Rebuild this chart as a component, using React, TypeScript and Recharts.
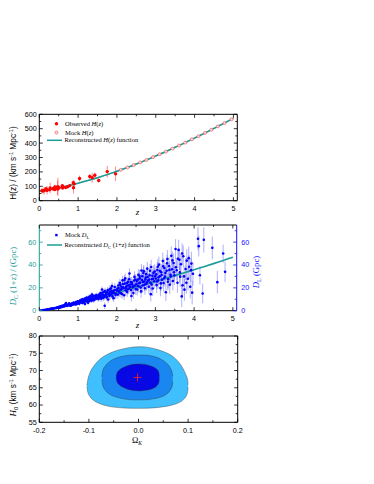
import React from 'react';
import { ComposedChart, Scatter, Line, Area, XAxis, YAxis, ErrorBar, Legend } from 'recharts';

// ---------- Panel 1: H(z) ----------
const obsZ = [0.07, 0.09, 0.12, 0.17, 0.179, 0.199, 0.2, 0.27, 0.28, 0.352, 0.38, 0.4, 0.4004, 0.425, 0.445, 0.47, 0.4783, 0.48, 0.51, 0.593, 0.6, 0.61, 0.68, 0.73, 0.781, 0.875, 0.88, 0.9, 1.037, 1.3, 1.363, 1.43, 1.53, 1.75, 1.965];
const obsH = [69, 69, 68.6, 83, 75, 75, 72.9, 77, 88.8, 83, 81.5, 95, 77, 87.1, 92.8, 89, 80.9, 97, 90.4, 104, 87.9, 97.3, 92, 97.3, 105, 125, 90, 117, 154, 168, 160, 177, 140, 202, 186.5];
const obsErr = [19.6, 12, 26.2, 8, 4, 5, 29.6, 14, 36.6, 14, 1.9, 17, 10.2, 11.2, 12.9, 50, 9, 62, 1.9, 13, 6.1, 2.1, 8, 7, 12, 17, 40, 23, 20, 17, 33.6, 18, 14, 40, 50.4];

const mockHZ = [2.1, 2.27, 2.43, 2.6, 2.76, 2.93, 3.1, 3.26, 3.43, 3.6, 3.76, 3.93, 4.1, 4.27, 4.43, 4.6, 4.77, 4.95];
const mockHVal = [214, 231, 248, 266, 283, 303, 323, 341, 362, 383, 403, 426, 448, 471, 493, 516, 539, 565];

const recHZ = [0, 0.25, 0.5, 0.75, 1, 1.25, 1.5, 1.75, 2, 2.25, 2.5, 2.75, 3, 3.25, 3.5, 3.75, 4, 4.25, 4.5, 4.75, 5];
const recHVal = [67, 76, 89, 104, 121, 140, 160, 181, 205, 229, 255, 282, 311, 340, 371, 402, 435, 468, 502, 537, 572];
const recHBand = [5, 4, 4, 4, 4, 4, 5, 5, 5, 5, 5, 5, 5, 5, 5, 5, 5, 5, 5, 5, 5];

const zTicks = [0, 0.5, 1, 1.5, 2, 2.5, 3, 3.5, 4, 4.5, 5];
const hTicks = [0, 50, 100, 150, 200, 250, 300, 350, 400, 450, 500, 550, 600];

// ---------- Panel 2: D_L (mock catalogue, read by eye) ----------
const dlZ = [
  0.04, 0.07, 0.1, 0.13, 0.16, 0.19, 0.22, 0.25, 0.28, 0.31, 0.34, 0.37, 0.4, 0.43, 0.46, 0.49,
  0.51, 0.53, 0.55, 0.57, 0.59, 0.61, 0.63, 0.65, 0.67, 0.69, 0.71, 0.73, 0.75, 0.77, 0.79, 0.81, 0.83, 0.85, 0.87, 0.89, 0.91, 0.93, 0.95, 0.97, 0.99,
  1.01, 1.03, 1.05, 1.07, 1.09, 1.11, 1.13, 1.15, 1.17, 1.18, 1.19, 1.21, 1.23, 1.25, 1.26, 1.27, 1.29, 1.31, 1.33, 1.35, 1.36, 1.37, 1.39, 1.41, 1.43, 1.45, 1.47, 1.49,
  1.51, 1.53, 1.55, 1.57, 1.59, 1.61, 1.62, 1.63, 1.65, 1.67, 1.69, 1.71, 1.73, 1.75, 1.77, 1.78, 1.79, 1.81, 1.83, 1.85, 1.87, 1.89, 1.91, 1.92, 1.93, 1.95, 1.97, 1.99,
  2.01, 2.03, 2.05, 2.07, 2.09, 2.11, 2.13, 2.15, 2.17, 2.19, 2.21, 2.22, 2.23, 2.25, 2.27, 2.29, 2.31, 2.33, 2.35, 2.37, 2.38, 2.39, 2.41, 2.43, 2.45, 2.46, 2.47, 2.49,
  2.51, 2.53, 2.55, 2.57, 2.59, 2.61, 2.63, 2.64, 2.65, 2.67, 2.69, 2.71, 2.73, 2.75, 2.77, 2.79, 2.81, 2.83, 2.85, 2.87, 2.88, 2.89, 2.91, 2.93, 2.95, 2.97, 2.99,
  3.01, 3.03, 3.05, 3.07, 3.09, 3.11, 3.13, 3.15, 3.17, 3.19, 3.21, 3.23, 3.25, 3.27, 3.29, 3.31, 3.33, 3.35, 3.37, 3.39, 3.41, 3.43, 3.45, 3.47, 3.49,
  3.52, 3.55, 3.57, 3.6, 3.62, 3.64, 3.66, 3.68, 3.7, 3.72, 3.75, 3.78, 3.81, 3.84, 3.87, 3.9, 3.93, 3.95, 3.97,
  4.1, 4.12, 4.15, 4.22, 4.25, 4.47, 4.6, 4.75, 4.8,
];
const dlVal = [
  0.2, 0.35, 0.5, 0.6, 0.8, 0.95, 1.2, 1.1, 1.6, 1.5, 2.0, 1.7, 2.4, 2.2, 2.9, 2.5,
  3.4, 2.6, 3.9, 3.0, 4.3, 3.4, 4.7, 3.8, 5.5, 6.6, 4.2, 5.1, 4.5, 6.4, 5.0, 5.8, 4.7, 6.5, 5.3, 7.2, 6.1, 5.5, 7.6, 6.4, 8.3,
  7.1, 6.0, 8.4, 7.5, 9.6, 6.8, 8.9, 7.8, 10.4, 5.9, 8.5, 9.2, 11.5, 8.1, 6.9, 10.0, 12.2, 9.4, 10.7, 8.7, 14.1, 11.9, 10.2, 13.0, 9.7, 11.3, 13.6, 10.5,
  12.4, 10.2, 13.8, 11.5, 15.4, 12.3, 18.6, 14.2, 11.1, 16.5, 4.3, 13.4, 15.7, 12.1, 18.0, 9.8, 14.4, 13.0, 16.6, 19.5, 14.9, 12.5, 17.3, 11.0, 15.4, 20.8, 13.8, 18.3,
  17.4, 14.1, 19.8, 16.0, 22.6, 15.2, 18.9, 26.5, 20.4, 13.5, 23.7, 28.4, 17.8, 21.3, 16.3, 25.4, 19.2, 32.5, 22.9, 18.1, 12.8, 24.8, 20.6, 15.4, 26.4, 29.6, 22.0, 18.9,
  23.5, 18.6, 27.3, 21.2, 30.4, 24.6, 16.9, 35.2, 26.9, 22.0, 33.0, 25.5, 19.7, 29.0, 23.5, 36.8, 26.3, 20.9, 31.0, 24.7, 14.5, 38.2, 27.6, 19.4, 33.1, 25.8, 30.2,
  28.1, 22.4, 35.6, 26.5, 40.3, 30.2, 19.8, 33.7, 27.1, 43.5, 24.3, 37.4, 29.8, 16.2, 34.9, 45.2, 27.6, 39.1, 22.7, 31.5, 48.0, 36.2, 26.0, 41.7, 30.9,
  54.0, 35.4, 24.5, 53.2, 44.6, 29.8, 40.7, 12.5, 22.3, 47.6, 18.4, 36.5, 43.8, 27.9, 38.4, 21.0, 41.2, 15.8, 32.3,
  63.0, 56.5, 31.0, 15.0, 62.0, 55.0, 25.0, 50.0, 34.0,
];
const dlErr = [
  0.05, 0.08, 0.1, 0.12, 0.15, 0.18, 0.2, 0.22, 0.25, 0.28, 0.3, 0.32, 0.35, 0.38, 0.4, 0.42,
  0.5, 0.5, 0.55, 0.55, 0.6, 0.6, 0.65, 0.65, 0.7, 0.75, 0.75, 0.8, 0.85, 0.85, 0.9, 0.9, 0.95, 1.0, 1.0, 1.05, 1.1, 1.1, 1.15, 1.2, 1.2,
  1.4, 1.4, 1.45, 1.5, 1.5, 1.55, 1.6, 1.6, 1.65, 1.65, 1.7, 1.75, 1.8, 1.8, 1.85, 1.85, 1.9, 1.95, 2.0, 2.0, 2.05, 2.1, 2.1, 2.15, 2.2, 2.2, 2.25, 2.3,
  2.4, 2.45, 2.5, 2.55, 2.6, 2.65, 2.65, 2.7, 2.75, 2.8, 2.8, 2.85, 2.9, 2.95, 3.0, 3.0, 3.05, 3.1, 3.15, 3.2, 3.25, 3.3, 3.35, 3.35, 3.4, 3.45, 3.5, 3.55,
  3.6, 3.65, 3.7, 3.75, 3.8, 3.9, 3.95, 4.0, 4.05, 4.1, 4.15, 4.2, 4.25, 4.3, 4.35, 4.4, 4.5, 4.55, 4.6, 4.65, 4.7, 4.7, 4.8, 4.85, 4.9, 4.95, 5.0, 5.1,
  5.1, 5.2, 5.25, 5.3, 5.4, 5.45, 5.5, 5.6, 5.6, 5.65, 5.7, 5.8, 5.85, 5.9, 6.0, 6.05, 6.1, 6.2, 6.25, 6.3, 6.35, 6.4, 6.45, 6.5, 6.6, 6.65, 6.7,
  6.8, 6.9, 7.0, 7.05, 7.1, 7.2, 7.25, 7.3, 7.4, 7.45, 7.5, 7.6, 7.65, 7.7, 7.8, 7.85, 7.9, 8.0, 8.05, 8.1, 8.2, 8.25, 8.3, 8.4, 8.45,
  8.6, 8.7, 8.8, 8.9, 9.0, 9.1, 9.2, 9.3, 9.4, 9.5, 9.6, 9.7, 9.9, 10.0, 10.1, 10.2, 10.3, 10.4, 10.5,
  10, 9, 8, 8.5, 11, 10, 10, 8, 9,
];

const dl2Z = [
  0.32, 0.38, 0.44, 0.52, 0.56, 0.62, 0.66, 0.72, 0.76, 0.8, 0.84, 0.88, 0.92, 0.96, 0.98,
  1.02, 1.04, 1.06, 1.08, 1.12, 1.14, 1.16, 1.2, 1.22, 1.24, 1.28, 1.3, 1.32, 1.34, 1.38, 1.4, 1.44, 1.48,
  1.52, 1.54, 1.56, 1.58, 1.6, 1.64, 1.66, 1.68, 1.7, 1.72, 1.74, 1.76, 1.8, 1.82, 1.84, 1.86, 1.88, 1.9, 1.94, 1.98,
  2.02, 2.04, 2.06, 2.08, 2.1, 2.12, 2.14, 2.16, 2.18, 2.2, 2.24, 2.26, 2.28, 2.3, 2.32, 2.34, 2.36, 2.4, 2.44, 2.48,
  2.52, 2.54, 2.56, 2.58, 2.6, 2.62, 2.66, 2.68, 2.7, 2.72, 2.74, 2.76, 2.78, 2.8, 2.84, 2.86, 2.9, 2.92, 2.94, 2.98,
  3.02, 3.04, 3.06, 3.08, 3.12, 3.14, 3.16, 3.2, 3.22, 3.26, 3.3, 3.32, 3.36, 3.4, 3.44, 3.48,
  3.53, 3.58, 3.63, 3.69, 3.74, 3.8, 3.86, 3.92,
];
const dl2Val = [
  1.8, 2.1, 2.6, 3.1, 3.5, 4.0, 4.4, 4.8, 5.4, 4.4, 5.9, 6.2, 6.8, 5.6, 7.0,
  8.0, 7.0, 9.1, 8.2, 10.0, 7.3, 9.4, 10.8, 8.0, 9.8, 11.0, 8.6, 12.6, 9.9, 12.4, 9.1, 12.1, 11.8,
  13.2, 11.4, 14.6, 12.8, 10.4, 15.9, 13.5, 12.0, 17.2, 14.3, 11.6, 16.2, 15.1, 18.8, 13.7, 16.9, 21.5, 15.8, 17.9, 14.9,
  19.2, 22.1, 17.2, 24.3, 18.4, 21.0, 14.6, 23.4, 19.7, 26.8, 20.1, 24.0, 18.5, 22.2, 27.5, 20.8, 25.1, 23.0, 21.4, 27.2,
  26.0, 21.8, 31.5, 24.1, 28.3, 20.3, 30.1, 25.2, 34.6, 22.8, 27.4, 32.0, 24.9, 29.5, 27.2, 35.0, 23.0, 30.6, 28.0, 34.3,
  31.8, 25.6, 38.4, 29.0, 34.8, 23.9, 31.2, 38.9, 28.4, 33.0, 41.5, 25.3, 35.7, 30.0, 44.0, 33.6,
  38.0, 45.5, 33.5, 50.0, 30.0, 24.5, 46.0, 35.5,
];
const dl2Err = [
  0.35, 0.4, 0.45, 0.55, 0.6, 0.65, 0.7, 0.8, 0.85, 0.9, 0.95, 1.0, 1.05, 1.1, 1.15,
  1.4, 1.45, 1.5, 1.5, 1.55, 1.6, 1.65, 1.7, 1.75, 1.8, 1.85, 1.9, 1.95, 2.0, 2.05, 2.1, 2.15, 2.25,
  2.4, 2.45, 2.5, 2.55, 2.6, 2.7, 2.75, 2.8, 2.85, 2.9, 2.95, 3.0, 3.1, 3.15, 3.2, 3.25, 3.3, 3.35, 3.45, 3.55,
  3.6, 3.65, 3.7, 3.75, 3.8, 3.85, 3.9, 3.95, 4.0, 4.1, 4.2, 4.25, 4.3, 4.35, 4.4, 4.45, 4.5, 4.6, 4.7, 4.8,
  4.9, 5.0, 5.05, 5.1, 5.2, 5.25, 5.35, 5.4, 5.45, 5.5, 5.6, 5.65, 5.7, 5.8, 5.9, 5.95, 6.05, 6.1, 6.2, 6.3,
  6.4, 6.5, 6.6, 6.7, 6.8, 6.9, 7.0, 7.1, 7.2, 7.3, 7.4, 7.5, 7.6, 7.7, 7.8, 8.0,
  8.2, 8.5, 8.8, 9.1, 9.4, 9.7, 10.0, 10.3,
];

const recDZ = [0, 0.25, 0.5, 0.75, 1, 1.25, 1.5, 1.75, 2, 2.25, 2.5, 2.75, 3, 3.25, 3.5, 3.75, 4, 4.25, 4.5, 4.75, 5];
const recDL = [0, 1.3, 2.95, 4.75, 6.7, 8.8, 11.0, 13.3, 15.7, 18.1, 20.6, 23.1, 25.6, 28.1, 30.7, 33.3, 35.9, 38.5, 41.2, 44.0, 46.8];

const dTicks = [0, 10, 20, 30, 40, 50, 60, 70];

// ---------- Panel 3: H0 - Omega_K contours ----------
const outerX = [-0.104, -0.102, -0.098, -0.09, -0.08, -0.065, -0.05, -0.03, -0.01, 0.005, 0.02, 0.04, 0.055, 0.07, 0.08, 0.09, 0.096, 0.099, 0.1];
const outerLo = [65.3, 63.6, 62.5, 61.3, 60.5, 59.8, 59.4, 59.15, 59.05, 59.05, 59.1, 59.3, 59.6, 60.1, 60.6, 61.5, 62.6, 63.8, 65.2];
const outerHi = [65.7, 67.5, 69.3, 71.3, 73.0, 74.5, 75.5, 76.3, 76.8, 76.9, 76.7, 76.0, 75.2, 74.0, 72.6, 70.5, 68.6, 67.3, 65.9];

const midX = [-0.074, -0.072, -0.067, -0.058, -0.045, -0.03, -0.01, 0.01, 0.03, 0.045, 0.056, 0.064, 0.068, 0.069];
const midLo = [67.4, 65.6, 64.3, 63.1, 62.3, 61.8, 61.5, 61.5, 61.8, 62.3, 63.1, 64.3, 65.6, 66.8];
const midHi = [68.2, 70.0, 71.3, 72.6, 73.6, 74.2, 74.5, 74.5, 74.1, 73.3, 72.2, 70.8, 69.3, 68.3];

const innerX = [-0.045, -0.043, -0.039, -0.032, -0.022, -0.01, 0.002, 0.014, 0.025, 0.033, 0.038, 0.041, 0.042];
const innerLo = [67.6, 66.6, 65.9, 65.2, 64.6, 64.2, 64.1, 64.25, 64.6, 65.1, 65.7, 66.5, 67.6];
const innerHi = [68.4, 69.4, 70.1, 70.8, 71.4, 71.8, 71.9, 71.75, 71.3, 70.8, 70.2, 69.4, 68.4];

const bestOK = [-0.002];
const bestH0 = [68];

const okTicks = [-0.2, -0.15, -0.1, -0.05, 0, 0.05, 0.1, 0.15, 0.2];
const h0Ticks = [55, 57.5, 60, 62.5, 65, 67.5, 70, 72.5, 75, 77.5, 80];

// ---------- derived tables ----------
const obsData = obsZ.map((x, i) => ({ x, y: obsH[i], e: obsErr[i] }));
const mockHData = mockHZ.map((x, i) => ({ x, y: mockHVal[i] }));
const recHData = recHZ.map((x, i) => ({ x, y: recHVal[i], band: [recHVal[i] - recHBand[i], recHVal[i] + recHBand[i]] }));
const dlData = [
  ...dlZ.map((x, i) => ({ x, y: dlVal[i], e: dlErr[i] })),
  ...dl2Z.map((x, i) => ({ x, y: dl2Val[i], e: dl2Err[i] })),
];
const recDData = recDZ.map((x, i) => ({ x, y: recDL[i] }));
const outerData = outerX.map((x, i) => ({ x, r: [outerLo[i], outerHi[i]] }));
const midData = midX.map((x, i) => ({ x, r: [midLo[i], midHi[i]] }));
const innerData = innerX.map((x, i) => ({ x, r: [innerLo[i], innerHi[i]] }));
const bestData = bestOK.map((x, i) => ({ x, y: bestH0[i] }));

// ---------- styling ----------
const SANS = 'Liberation Sans, Arial, sans-serif';
const SERIF = 'Liberation Serif, Times New Roman, serif';
const TEAL = '#1c9c98';
const BLUE = '#1010ff';
const M = 5;
const TICK_FS = 7.2;

type Side = 'bottom' | 'top' | 'left' | 'right';

function makeTick(side: Side, major: number, color: string, label: boolean, fmt: (v: number) => string, gap = 2.5) {
  return (props: any) => {
    const { x, y, payload } = props;
    const v = payload.value;
    const isMajor = Math.abs(v / major - Math.round(v / major)) < 1e-6;
    const len = isMajor ? 3.5 : 2;
    let line;
    let text = null;
    if (side === 'bottom') {
      const ay = y - M;
      line = <line x1={x} x2={x} y1={ay} y2={ay - len} stroke={color} strokeWidth={0.8} />;
      if (label && isMajor)
        text = <text x={x} y={ay + 10.6} textAnchor="middle" fontFamily={SANS} fontSize={TICK_FS} fill={color}>{fmt(v)}</text>;
    } else if (side === 'top') {
      const ay = y + M;
      line = <line x1={x} x2={x} y1={ay} y2={ay + len} stroke={color} strokeWidth={0.8} />;
    } else if (side === 'left') {
      const ax = x + M;
      line = <line x1={ax} x2={ax + len} y1={y} y2={y} stroke={color} strokeWidth={0.8} />;
      if (label && isMajor)
        text = <text x={ax - gap} y={y + 2.4} textAnchor="end" fontFamily={SANS} fontSize={TICK_FS} fill={color}>{fmt(v)}</text>;
    } else {
      const ax = x - M;
      line = <line x1={ax} x2={ax - len} y1={y} y2={y} stroke={color} strokeWidth={0.8} />;
      if (label && isMajor)
        text = <text x={ax + gap} y={y + 2.4} textAnchor="start" fontFamily={SANS} fontSize={TICK_FS} fill={color}>{fmt(v)}</text>;
    }
    return <g>{line}{text}</g>;
  };
}

const intFmt = (v: number) => String(Math.round(v));
const oneFmt = (v: number) => v.toFixed(1);

function axes(opts: {
  xDomain: [number, number]; xTicks: number[]; xMajor: number; xFmt: (v: number) => string;
  yDomain: [number, number]; yTicks: number[]; yMajor: number; yFmt: (v: number) => string;
  leftColor: string; rightColor: string; rightLabels: boolean; leftGap?: number;
}) {
  const common = { tickSize: 0, tickMargin: M, interval: 0 as const, allowDataOverflow: true, type: 'number' as const };
  return [
    <XAxis key="xb" xAxisId="b" dataKey="x" orientation="bottom" domain={opts.xDomain} ticks={opts.xTicks} height={1}
      axisLine={{ stroke: '#000', strokeWidth: 1 }} tick={makeTick('bottom', opts.xMajor, '#000', true, opts.xFmt)} {...common} />,
    <XAxis key="xt" xAxisId="t" dataKey="x" orientation="top" domain={opts.xDomain} ticks={opts.xTicks} height={1}
      axisLine={{ stroke: '#000', strokeWidth: 1 }} tick={makeTick('top', opts.xMajor, '#000', false, opts.xFmt)} {...common} />,
    <YAxis key="yl" yAxisId="l" dataKey="y" orientation="left" domain={opts.yDomain} ticks={opts.yTicks} width={1}
      axisLine={{ stroke: opts.leftColor, strokeWidth: 1 }} tick={makeTick('left', opts.yMajor, opts.leftColor, true, opts.yFmt, opts.leftGap ?? 2.5)} {...common} />,
    <YAxis key="yr" yAxisId="r" dataKey="y" orientation="right" domain={opts.yDomain} ticks={opts.yTicks} width={1}
      axisLine={{ stroke: opts.rightColor, strokeWidth: 1 }} tick={makeTick('right', opts.yMajor, opts.rightColor, opts.rightLabels, opts.yFmt, 4.5)} {...common} />,
  ];
}

const redDot = (p: any) => <circle cx={p.cx} cy={p.cy} r={1.7} fill="#ff0000" />;
const pinkCircle = (p: any) => <circle cx={p.cx} cy={p.cy} r={1.5} fill="#ffd8d8" stroke="#f06060" strokeWidth={0.7} />;
const blueDot = (p: any) => <circle cx={p.cx} cy={p.cy} r={1.3} fill="#0000ff" />;
const redCross = (p: any) => (
  <g stroke="#ff2020" strokeWidth={0.8}>
    <line x1={p.cx - 4} x2={p.cx + 4} y1={p.cy} y2={p.cy} />
    <line x1={p.cx} x2={p.cx} y1={p.cy - 4} y2={p.cy + 4} />
  </g>
);

const legendStyle = { left: 0, top: 0, width: 374, height: 120 };

const LegendH = () => (
  <svg width={374} height={120} style={{ display: 'block' }}>
    <g fontFamily={SERIF} fontSize={6.5} fill="#000">
      <circle cx={56.5} cy={23.7} r={1.7} fill="#ff0000" />
      <text x={65} y={25.8}>Observed <tspan fontStyle="italic">H</tspan>(<tspan fontStyle="italic">z</tspan>)</text>
      <circle cx={56.5} cy={32.5} r={1.5} fill="#ffd8d8" stroke="#f06060" strokeWidth={0.7} />
      <text x={65} y={34.6}>Mock <tspan fontStyle="italic">H</tspan>(<tspan fontStyle="italic">z</tspan>)</text>
      <line x1={47} x2={62} y1={40.3} y2={40.3} stroke={TEAL} strokeWidth={1.5} />
      <text x={64.5} y={42.4}>Reconstructed <tspan fontStyle="italic">H</tspan>(<tspan fontStyle="italic">z</tspan>) function</text>
    </g>
  </svg>
);

const LegendD = () => (
  <svg width={374} height={120} style={{ display: 'block' }}>
    <g fontFamily={SERIF} fontSize={6.5} fill="#000">
      <rect x={55.2} y={13.9} width={2.4} height={2.4} fill="#0000ff" />
      <text x={65} y={17.2}>Mock <tspan fontStyle="italic">D</tspan><tspan fontSize={4.5} dy={1.5}>L</tspan></text>
      <line x1={47} x2={62} y1={25} y2={25} stroke={TEAL} strokeWidth={1.5} />
      <text x={64.5} y={27.2}>Reconstructed <tspan fontStyle="italic">D</tspan><tspan fontSize={4.5} dy={1.5}>C</tspan><tspan dy={-1.5}> (1+</tspan><tspan fontStyle="italic">z</tspan>) function</text>
    </g>
  </svg>
);

export default function App() {
  return (
    <div style={{ position: 'absolute', left: 0, top: 0, width: 374, height: 484, background: '#fff' }}>
      {/* Panel 1 */}
      <div style={{ position: 'absolute', left: 0, top: 100 }}>
        <ComposedChart width={374} height={120} margin={{ top: 13.3, right: 135.7, bottom: 18.3, left: 38.3 }}>
          {axes({ xDomain: [0, 5.1], xTicks: zTicks, xMajor: 1, xFmt: intFmt, yDomain: [0, 600], yTicks: hTicks, yMajor: 100, yFmt: intFmt, leftColor: '#000', rightColor: '#000', rightLabels: false })}
          <Area xAxisId="b" yAxisId="l" data={recHData} dataKey="band" type="monotone" stroke="none" fill="#555" fillOpacity={0.55} isAnimationActive={false} />
          <Scatter xAxisId="b" yAxisId="l" data={obsData} dataKey="y" shape={redDot} isAnimationActive={false}>
            <ErrorBar dataKey="e" direction="y" width={0} stroke="#ff2a2a" strokeOpacity={0.55} strokeWidth={1} isAnimationActive={false} />
          </Scatter>
          <Line xAxisId="b" yAxisId="l" data={recHData} dataKey="y" type="monotone" stroke={TEAL} strokeWidth={1.5} dot={false} isAnimationActive={false} />
          <Scatter xAxisId="b" yAxisId="l" data={mockHData} dataKey="y" shape={pinkCircle} isAnimationActive={false} />
          <Legend layout="vertical" align="center" verticalAlign="middle" wrapperStyle={legendStyle} content={() => <LegendH />} />
        </ComposedChart>
      </div>

      {/* Panel 2 */}
      <div style={{ position: 'absolute', left: 0, top: 220 }}>
        <ComposedChart width={374} height={120} margin={{ top: 4, right: 136.3, bottom: 28.3, left: 38.3 }}>
          {axes({ xDomain: [0, 5.1], xTicks: zTicks, xMajor: 1, xFmt: intFmt, yDomain: [0, 75], yTicks: dTicks, yMajor: 20, yFmt: intFmt, leftColor: TEAL, rightColor: BLUE, rightLabels: true, leftGap: 3 })}
          <Scatter xAxisId="b" yAxisId="l" data={dlData} dataKey="y" shape={blueDot} isAnimationActive={false}>
            <ErrorBar dataKey="e" direction="y" width={0} stroke="#5050ff" strokeOpacity={0.42} strokeWidth={1.1} isAnimationActive={false} />
          </Scatter>
          <Line xAxisId="b" yAxisId="l" data={recDData} dataKey="y" type="monotone" stroke={TEAL} strokeWidth={1.6} dot={false} isAnimationActive={false} />
          <Legend layout="vertical" align="center" verticalAlign="middle" wrapperStyle={legendStyle} content={() => <LegendD />} />
        </ComposedChart>
      </div>

      {/* Panel 3 */}
      <div style={{ position: 'absolute', left: 0, top: 330 }}>
        <ComposedChart width={374} height={120} margin={{ top: 5, right: 135.3, bottom: 26.7, left: 38.3 }}>
          {axes({ xDomain: [-0.2, 0.2], xTicks: okTicks, xMajor: 0.1, xFmt: oneFmt, yDomain: [55, 80], yTicks: h0Ticks, yMajor: 5, yFmt: intFmt, leftColor: '#000', rightColor: '#000', rightLabels: false })}
          <Area xAxisId="b" yAxisId="l" data={outerData} dataKey="r" type="monotone" stroke="#333" strokeWidth={0.4} fill="#3fbffd" fillOpacity={1} isAnimationActive={false} />
          <Area xAxisId="b" yAxisId="l" data={midData} dataKey="r" type="monotone" stroke="#333" strokeWidth={0.4} fill="#1a86f0" fillOpacity={1} isAnimationActive={false} />
          <Area xAxisId="b" yAxisId="l" data={innerData} dataKey="r" type="monotone" stroke="#333" strokeWidth={0.4} fill="#0808e4" fillOpacity={1} isAnimationActive={false} />
          <Scatter xAxisId="b" yAxisId="l" data={bestData} dataKey="y" shape={redCross} isAnimationActive={false} />
        </ComposedChart>
      </div>

      {/* Axis titles */}
      <svg width={374} height={484} style={{ position: 'absolute', left: 0, top: 0, pointerEvents: 'none' }}>
        <text transform="translate(16,163) rotate(-90)" textAnchor="middle" fontFamily={SANS} fontSize={8.3} fill="#000">
          H(z) / (km s<tspan fontSize={5.5} dy={-3}>-1</tspan><tspan dy={3}> Mpc</tspan><tspan fontSize={5.5} dy={-3}>-1</tspan><tspan dy={3}>)</tspan>
        </text>
        <text x={137.5} y={214.5} textAnchor="middle" fontFamily={SERIF} fontStyle="italic" fontSize={9}>z</text>

        <text transform="translate(16,276) rotate(-90)" textAnchor="middle" fontFamily={SERIF} fontSize={8.7} fill={TEAL}>
          <tspan fontStyle="italic">D</tspan><tspan fontSize={6} dy={2}>C</tspan><tspan dy={-2}> (1+z) / (Gpc)</tspan>
        </text>
        <text transform="translate(259,272) rotate(-90)" textAnchor="middle" fontFamily={SERIF} fontSize={8.7} fill={BLUE}>
          <tspan fontStyle="italic">D</tspan><tspan fontSize={6} dy={2}>L</tspan><tspan dy={-2}> (Gpc)</tspan>
        </text>
        <text x={137.5} y={327.5} textAnchor="middle" fontFamily={SERIF} fontStyle="italic" fontSize={9}>z</text>

        <text transform="translate(16,385) rotate(-90)" textAnchor="middle" fontFamily={SANS} fontSize={8.3} fill="#000">
          <tspan fontFamily={SERIF} fontStyle="italic" fontSize={9}>H</tspan><tspan fontSize={6} dy={2}>0</tspan><tspan dy={-2}> (km s</tspan><tspan fontSize={5.5} dy={-3}>-1</tspan><tspan dy={3}> Mpc</tspan><tspan fontSize={5.5} dy={-3}>-1</tspan><tspan dy={3}>)</tspan>
        </text>
        <text x={137} y={443} textAnchor="middle" fontFamily={SERIF} fontSize={8.5}>
          Ω<tspan fontStyle="italic" fontSize={5.5} dy={2}>K</tspan>
        </text>
      </svg>
    </div>
  );
}
